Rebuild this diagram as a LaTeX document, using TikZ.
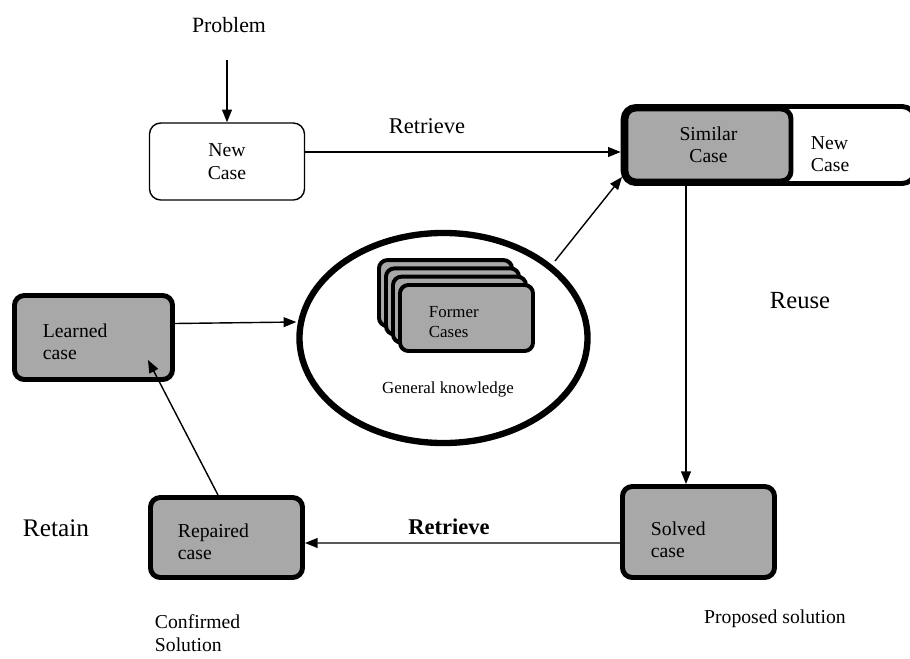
\documentclass[tikz,border=0pt]{standalone}
\usepackage{fontspec}
\setmainfont{Liberation Serif}
\usetikzlibrary{shapes.geometric,arrows.meta}
\definecolor{casegray}{gray}{0.66}

\tikzset{
    arr/.style={line width=1pt,-{Triangle[length=9pt,width=7pt]}},
    casebox/.style={draw,rounded corners=7pt,fill=casegray,line width=3.5pt,font=\fontsize{14}{16}\selectfont},
    card/.style={draw,rounded corners=6pt,fill=casegray,line width=2.8pt,minimum width=3.325cm,minimum height=1.65cm},
    lbl/.style={font=\fontsize{14}{16}\selectfont,align=left}
}

\begin{document}
\begin{tikzpicture}[x=0.025cm,y=-0.025cm]
        \useasboundingbox (0,0) rectangle (910,659);

        \node[font=\fontsize{15.5}{18}\selectfont] (problem) at (229,25) {Problem};
        \node[draw,rounded corners=8pt,line width=1pt,minimum width=3.875cm,minimum height=1.925cm,align=center,font=\fontsize{14}{16}\selectfont] (newcase) at (227,161.5) {New\\Case};
        \coordinate (probtop) at (227,60);
        \node[font=\fontsize{16}{18}\selectfont] (retrtop) at (427,126) {Retrieve};

        \node[draw,rounded corners=9pt,line width=3.5pt,minimum width=7.29cm,minimum height=1.925cm] (outer) at (769,145) {};
        \node[casebox,minimum width=4.125cm,minimum height=1.8cm,align=center] (similar) at (708.5,145) {Similar\\Case};
        \node[lbl,anchor=west] (newcase2) at (806,154) {New\\Case};

        \node[draw,ellipse,line width=4.5pt,minimum width=7.2cm,minimum height=5.25cm] (know) at (443.5,338) {};
        \foreach \i in {3,2,1} {
            \node[card] (card\i) at (466.5-7*\i,318-8.3*\i) {};
        }
        \node[card] (former) at (466.5,318) {};
        \node[anchor=west,align=left,font=\fontsize{12}{14.5}\selectfont] (formertxt) at (424,322) {Former\\Cases};
        \node[font=\fontsize{12}{14}\selectfont] (general) at (448,389) {General knowledge};

        \node[font=\fontsize{17.5}{20}\selectfont] (reuse) at (800,301) {Reuse};

        \node[casebox,minimum width=3.95cm,minimum height=2.1cm] (learned) at (93.5,337.5) {};
        \node[lbl,anchor=west] (learnedtxt) at (38,342) {Learned\\case};

        \node[casebox,minimum width=3.8cm,minimum height=2.0cm] (repaired) at (226.5,537.5) {};
        \node[lbl,anchor=west] (repairedtxt) at (173,542) {Repaired\\case};

        \node[casebox,minimum width=3.8cm,minimum height=2.275cm] (solved) at (698.5,532) {};
        \node[lbl,anchor=west] (solvedtxt) at (646,540) {Solved\\case};

        \node[font=\fontsize{16}{18}\bfseries\selectfont] (retrbot) at (449,527) {Retrieve};
        \node[font=\fontsize{18}{20}\selectfont] (retain) at (56,528) {Retain};
        \node[lbl,anchor=west] (confirmed) at (150,633) {Confirmed\\Solution};
        \node[font=\fontsize{14}{16}\selectfont] (proposed) at (775,619) {Proposed solution};

        \coordinate (kntop) at (555,261);
        \coordinate (simin) at (622,177);
        \coordinate (learnin) at (148,360);
        \coordinate (repout) at (218,495);

        \draw[arr] (probtop) -- (newcase.north);
        \draw[arr] ([yshift=9.5*0.025cm]newcase.east) -- ([yshift=-7*0.025cm]outer.west);
        \draw[arr] (similar.south -| 686,0) -- (solved.north -| 686,0);
        \draw[arr] (kntop) -- (simin);
        \draw[arr] ([yshift=14*0.025cm]learned.east) -- ([yshift=16*0.025cm]know.west);
        \draw[arr] ([yshift=-11*0.025cm]solved.west) -- ([yshift=-5.5*0.025cm]repaired.east);
        \draw[arr] (repout) -- (learnin);
    \end{tikzpicture}
\end{document}
